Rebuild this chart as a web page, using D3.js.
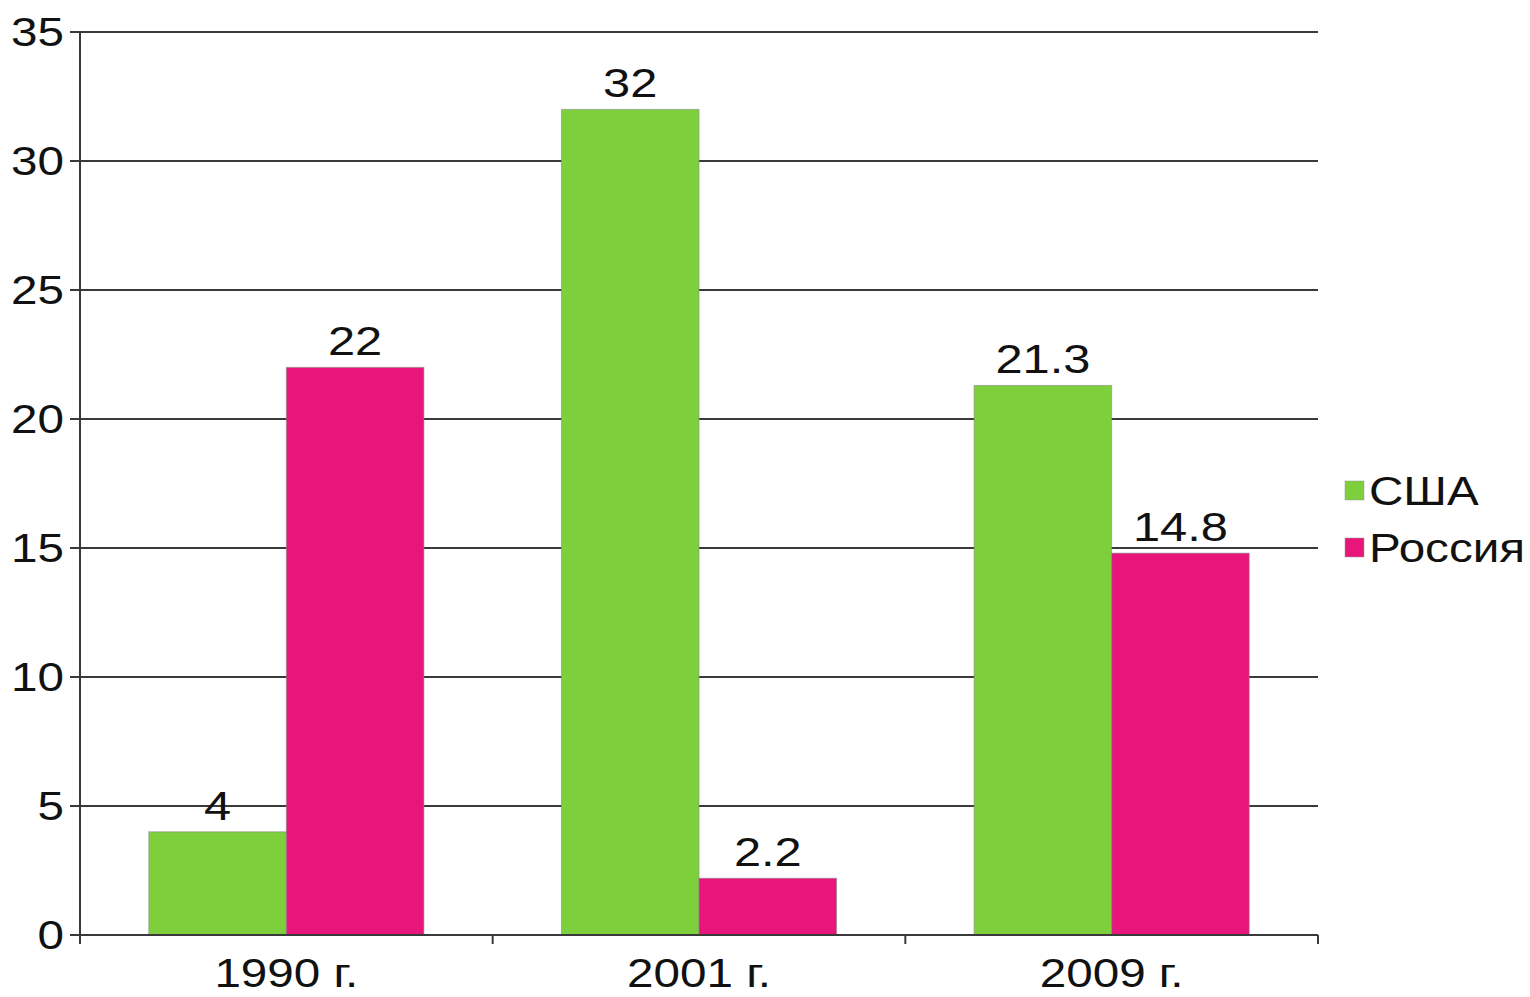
<!DOCTYPE html>
<html>
<head>
<meta charset="utf-8">
<script src="https://cdn.jsdelivr.net/npm/d3@7"></script>
<style>
  body { margin: 0; background: #fff; }
  text { font-family: "Liberation Sans", Arial, sans-serif; fill: #111; }
</style>
</head>
<body>
<div id="chart"></div>
<script>
const years = ["1990 г.", "2001 г.", "2009 г."];
const series = ["США", "Россия"];
const usa = [4, 32, 21.3];
const russia = [22, 2.2, 14.8];
const colors = ["#7dcf3c", "#e8167a"];
const yTicks = [0, 5, 10, 15, 20, 25, 30, 35];

const width = 1530, height = 997;
const margin = { top: 32, right: 212, bottom: 62, left: 80 };
const stretch = 1.19; // text in the reference is a little wide

const data = years.map((y, i) => ({ year: y, values: [usa[i], russia[i]] }));

const svg = d3.select("#chart").append("svg")
  .attr("width", width).attr("height", height);

const x = d3.scaleBand()
  .domain(years)
  .range([margin.left, width - margin.right])
  .paddingInner(0).paddingOuter(0);

const inner = d3.scaleBand()
  .domain([0, 1])
  .range([x.bandwidth() / 6, x.bandwidth() * 5 / 6]);

const y = d3.scaleLinear()
  .domain([0, 35])
  .range([height - margin.bottom, margin.top]);

const place = (px, py) => `translate(${px},${py}) scale(${stretch},1)`;

// gridlines
svg.append("g")
  .selectAll("line")
  .data(yTicks.slice(1))
  .join("line")
  .attr("x1", margin.left - 10)
  .attr("x2", width - margin.right)
  .attr("y1", d => y(d)).attr("y2", d => y(d))
  .attr("stroke", "#3a3a3a")
  .attr("stroke-width", 2);

// y labels
svg.append("g")
  .selectAll("text")
  .data(yTicks)
  .join("text")
  .attr("transform", d => place(margin.left - 16, y(d)))
  .attr("dy", "0.36em")
  .attr("text-anchor", "end")
  .style("font-size", "40px")
  .text(d => d);

// bars
const group = svg.selectAll(".grp")
  .data(data)
  .join("g")
  .attr("class", "grp")
  .attr("transform", d => `translate(${x(d.year)},0)`);

group.selectAll("rect")
  .data(d => d.values)
  .join("rect")
  .attr("x", (d, i) => inner(i))
  .attr("width", inner.bandwidth())
  .attr("y", d => y(d))
  .attr("height", d => y(0) - y(d))
  .attr("fill", (d, i) => colors[i])
  .attr("stroke", "#8a8a8a")
  .attr("stroke-opacity", 0.6)
  .attr("stroke-width", 1);

group.selectAll(".val")
  .data(d => d.values)
  .join("text")
  .attr("class", "val")
  .attr("transform", (d, i) => place(inner(i) + inner.bandwidth() / 2, y(d) - 12))
  .attr("text-anchor", "middle")
  .style("font-size", "41px")
  .text(d => d);

// axes lines
svg.append("line")
  .attr("x1", margin.left).attr("x2", margin.left)
  .attr("y1", y(35)).attr("y2", y(0))
  .attr("stroke", "#3a3a3a").attr("stroke-width", 2);

svg.append("line")
  .attr("x1", margin.left - 10).attr("x2", width - margin.right)
  .attr("y1", y(0)).attr("y2", y(0))
  .attr("stroke", "#3a3a3a").attr("stroke-width", 2);

// x ticks at band boundaries
const bounds = years.map(d => x(d)).concat([width - margin.right]);
svg.append("g")
  .selectAll("line")
  .data(bounds)
  .join("line")
  .attr("x1", d => d).attr("x2", d => d)
  .attr("y1", y(0)).attr("y2", y(0) + 9)
  .attr("stroke", "#3a3a3a").attr("stroke-width", 2);

svg.append("g")
  .selectAll("text")
  .data(years)
  .join("text")
  .attr("transform", d => place(x(d) + x.bandwidth() / 2, y(0) + 52))
  .attr("text-anchor", "middle")
  .style("font-size", "40px")
  .text(d => d);

// legend
const legend = svg.append("g")
  .attr("transform", `translate(1345, 491)`);

series.forEach((s, i) => {
  legend.append("rect")
    .attr("x", 0).attr("y", i * 57 - 10)
    .attr("width", 19).attr("height", 19)
    .attr("fill", colors[i])
    .attr("stroke", "#999").attr("stroke-width", 0.5);
  legend.append("text")
    .attr("transform", place(24, i * 57))
    .attr("dy", "0.36em")
    .style("font-size", "40px")
    .text(s);
});
</script>
</body>
</html>
